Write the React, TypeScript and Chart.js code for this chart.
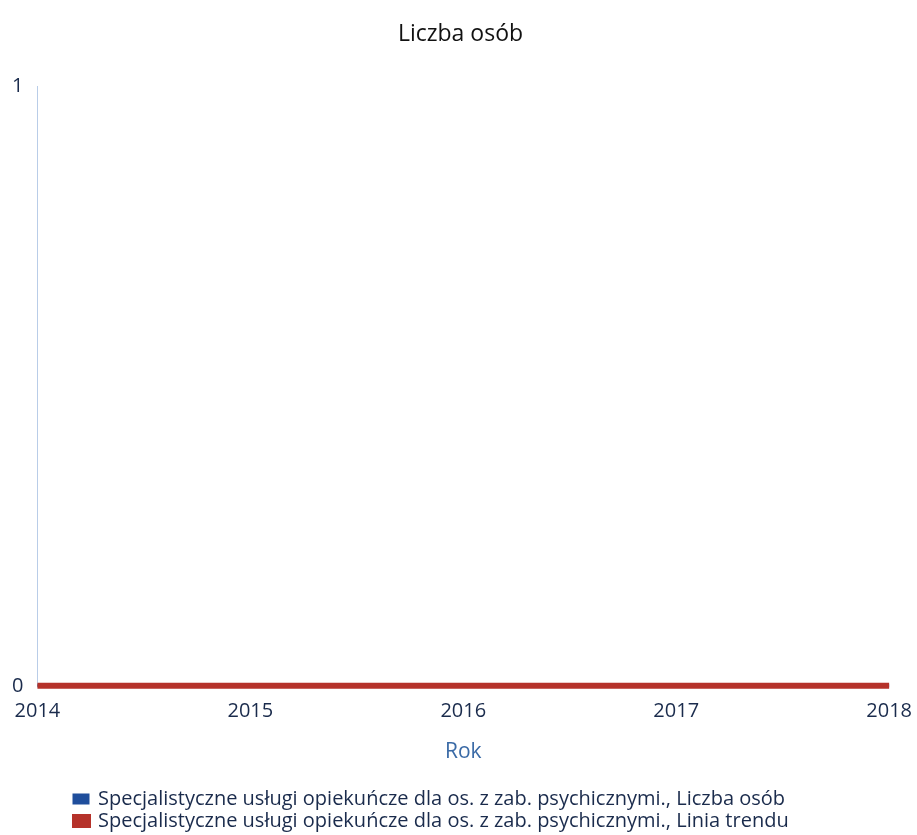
import React, { useEffect, useRef } from "react";
import { Chart, registerables } from "chart.js";

Chart.register(...registerables);

const years = ["2014", "2015", "2016", "2017", "2018"];
const liczbaOsob = [0, 0, 0, 0, 0];
const liniaTrendu = [0, 0, 0, 0, 0];
const seriesNames = [
  "Specjalistyczne usługi opiekuńcze dla os. z zab. psychicznymi., Liczba osób",
  "Specjalistyczne usługi opiekuńcze dla os. z zab. psychicznymi., Linia trendu",
];

const legendShift = {
  id: "legendShift",
  afterLayout(c: any) {
    if (c.legend) {
      c.legend.left += 66;
      c.legend.right += 66;
    }
  },
};

export default function App() {
  const ref = useRef<HTMLCanvasElement>(null);
  useEffect(() => {
    document.body.style.margin = "0";
    const font = "'Open Sans', 'DejaVu Sans', sans-serif";
    const chart = new Chart(ref.current!, {
      type: "line",
      data: {
        labels: years,
        datasets: [
          {
            label: seriesNames[0],
            data: liczbaOsob,
            borderColor: "#1f4e9c",
            backgroundColor: "#1f4e9c",
            borderWidth: 3,
            pointRadius: 0,
            clip: false,
            order: 2,
          },
          {
            label: seriesNames[1],
            data: liniaTrendu,
            borderColor: "#b5322a",
            backgroundColor: "#b5322a",
            borderWidth: 6,
            pointRadius: 0,
            clip: false,
            order: 1,
          },
        ],
      },
      plugins: [legendShift],
      options: {
        animation: false,
        responsive: false,
        layout: { padding: { left: 6, right: 2, top: 15, bottom: -6 } },
        plugins: {
          title: {
            display: true,
            text: "Liczba osób",
            color: "#111111",
            font: { family: font, size: 23, weight: "normal" },
            padding: { top: 6, bottom: 38 },
          },
          legend: {
            position: "bottom",
            align: "start",
            labels: {
              boxWidth: 14,
              boxHeight: 8,
              color: "#1a2b4c",
              font: { family: font, size: 20 },
              padding: 2,
              sort: (a: any, b: any) => a.datasetIndex - b.datasetIndex,
            },
          },
          tooltip: { enabled: false },
        },
        scales: {
          x: {
            offset: false,
            grid: { display: false },
            border: { display: false },
            ticks: {
              color: "#1a2b4c",
              font: { family: font, size: 20 },
              maxRotation: 0,
              padding: 5,
            },
            title: {
              display: true,
              text: "Rok",
              color: "#3a6aa6",
              font: { family: font, size: 21 },
              padding: { top: 12, bottom: 22 },
            },
          },
          y: {
            min: 0,
            max: 1,
            grid: { display: false },
            border: { display: true, color: "#b9cde8", width: 1 },
            ticks: {
              stepSize: 1,
              color: "#1a2b4c",
              font: { family: font, size: 20 },
              padding: 6,
            },
          },
        },
      },
    });
    return () => chart.destroy();
  }, []);
  return <canvas ref={ref} width={917} height={835} style={{ display: "block" }} />;
}
